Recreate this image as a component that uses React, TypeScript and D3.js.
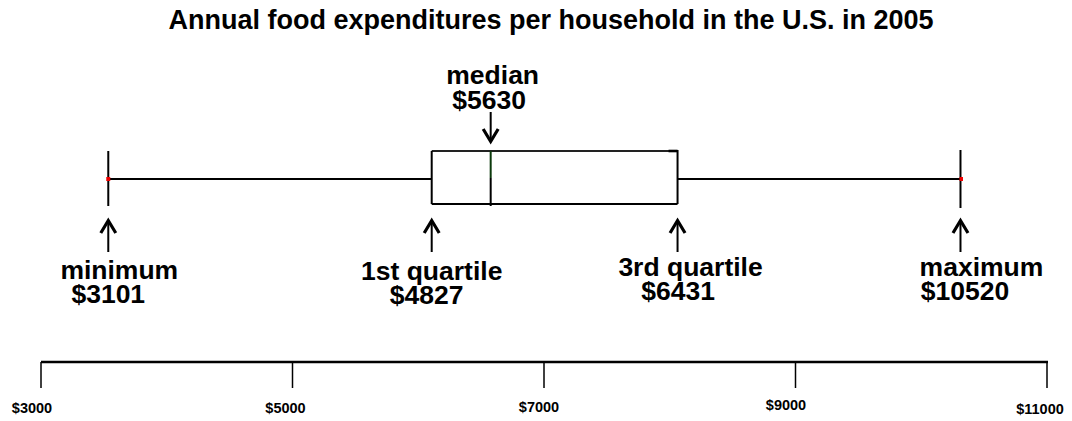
import React from "react";
import * as d3 from "d3";

// ---- data ----
const title = "Annual food expenditures per household in the U.S. in 2005";
const statNames = ["minimum", "1st quartile", "median", "3rd quartile", "maximum"];
const statLabels = ["$3101", "$4827", "$5630", "$6431", "$10520"];
// where each marker sits when read against the drawn axis
const statPositions = [3535, 6107, 6576, 8062, 10312];
const axisTicks = [3000, 5000, 7000, 9000, 11000];
const axisTickLabels = ["$3000", "$5000", "$7000", "$9000", "$11000"];

const W = 1072;
const H = 421;
const FONT = "'Liberation Sans', Arial, Helvetica, sans-serif";

// label offsets (annotation layout)
const nameDx = [11, 0, 2, 13, 21];
const valueDx = [0, -5, -1.5, 0.5, 4.5];
const nameY = [279, 280, 84, 276, 276];
const valueY = [303, 304, 109, 300, 300];
const tickLabelDx = [-9, -7, -5, -9.5, -7];
const tickLabelDy = [0, 0, -1, -3, 1];

export default function App() {
  const x = d3.scaleLinear().domain([3000, 11000]).range([41, 1047]);
  const [vMin, vQ1, vMed, vQ3, vMax] = statPositions.map((v) => x(v));
  const yMid = 179;
  const boxTop = 151;
  const boxBot = 204;
  const axisY = 362;

  const upArrow = (cx: number, key: string) => (
    <g key={key}>
      <line x1={cx} x2={cx} y1={221} y2={252} stroke="#000" strokeWidth={2} />
      <path
        d={`M${cx - 7.5},${233} L${cx},${220.5} L${cx + 7.5},${233}`}
        fill="none"
        stroke="#000"
        strokeWidth={3.2}
        strokeLinejoin="miter"
      />
    </g>
  );

  return (
    <div style={{ position: "absolute", left: 0, top: 0 }}>
      <svg width={W} height={H} style={{ display: "block", background: "#fff" }}>
        <rect x={0} y={0} width={W} height={H} fill="#fff" />
        <text
          x={551}
          y={29}
          textAnchor="middle"
          fontFamily={FONT}
          fontWeight="bold"
          fontSize={27}
          fill="#000"
        >
          {title}
        </text>

        {/* whiskers */}
        <line x1={vMin} x2={vQ1} y1={yMid} y2={yMid} stroke="#000" strokeWidth={2} />
        <line x1={vQ3} x2={vMax} y1={yMid} y2={yMid} stroke="#000" strokeWidth={2} />
        <line x1={vMin} x2={vMin} y1={151} y2={206} stroke="#000" strokeWidth={2} />
        <line x1={vMax} x2={vMax} y1={150} y2={208} stroke="#000" strokeWidth={2} />

        {/* box */}
        <line x1={vQ1} x2={vQ3} y1={boxTop} y2={boxTop} stroke="#222" strokeWidth={1.8} />
        <line x1={vQ1} x2={vQ3} y1={boxBot} y2={boxBot} stroke="#000" strokeWidth={2.2} />
        <line x1={vQ1} x2={vQ1} y1={boxTop} y2={boxBot} stroke="#000" strokeWidth={2} />
        <line x1={vQ3} x2={vQ3} y1={boxTop - 1} y2={boxBot} stroke="#000" strokeWidth={2} />
        <line x1={vQ3 - 9} x2={vQ3} y1={boxTop} y2={boxTop} stroke="#000" strokeWidth={2.6} />
        <line x1={vMed} x2={vMed} y1={boxTop} y2={178} stroke="#0c3a0c" strokeWidth={2} />
        <line x1={vMed} x2={vMed} y1={178} y2={206} stroke="#000" strokeWidth={2} />

        {/* red end points */}
        <rect x={vMin - 2} y={yMid - 2} width={4} height={4} fill="#e00" />
        <rect x={vMax - 1} y={yMid - 2} width={3.5} height={4} fill="#e00" />

        {/* arrows */}
        {upArrow(vMin, "a0")}
        {upArrow(vQ1, "a1")}
        {upArrow(vQ3, "a3")}
        {upArrow(vMax, "a4")}
        <g>
          <line x1={vMed} x2={vMed} y1={112} y2={141} stroke="#000" strokeWidth={2} />
          <path
            d={`M${vMed - 7.5},${129} L${vMed},${141.5} L${vMed + 7.5},${129}`}
            fill="none"
            stroke="#000"
            strokeWidth={3.2}
          />
        </g>

        {/* labels */}
        {statPositions.map((v, i) => (
          <g key={"lab" + i} fontFamily={FONT} fontWeight="bold" fontSize={26.5} fill="#000">
            <text x={x(v) + nameDx[i]} y={nameY[i]} textAnchor="middle">
              {statNames[i]}
            </text>
            <text x={x(v) + valueDx[i]} y={valueY[i]} textAnchor="middle">
              {statLabels[i]}
            </text>
          </g>
        ))}

        {/* axis */}
        <line x1={x(3000)} x2={x(11000) + 1} y1={axisY} y2={axisY} stroke="#000" strokeWidth={2.6} />
        {axisTicks.map((t, i) => (
          <g key={"t" + i}>
            <line x1={x(t)} x2={x(t)} y1={axisY} y2={388} stroke="#000" strokeWidth={1.5} />
            <text
              x={x(t) + tickLabelDx[i]}
              y={413 + tickLabelDy[i]}
              textAnchor="middle"
              fontFamily={FONT}
              fontWeight="bold"
              fontSize={14.5}
              fill="#000"
            >
              {axisTickLabels[i]}
            </text>
          </g>
        ))}
      </svg>
    </div>
  );
}
